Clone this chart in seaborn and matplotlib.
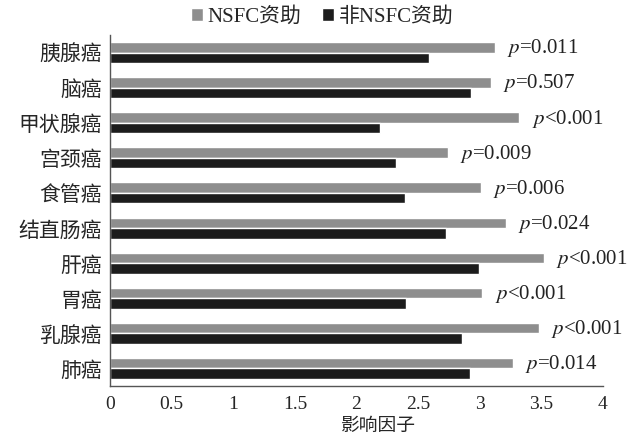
import matplotlib
matplotlib.use("Agg")
import matplotlib.pyplot as plt
import seaborn as sns
import pandas as pd
import numpy as np
from matplotlib.ticker import FixedLocator

categories = ["胰腺癌", "脑癌", "甲状腺癌", "宫颈癌", "食管癌", "结直肠癌", "肝癌", "胃癌", "乳腺癌", "肺癌"]
nsfc = [3.12, 3.09, 3.32, 2.74, 3.01, 3.21, 3.52, 3.02, 3.48, 3.27]
non_nsfc = [2.59, 2.93, 2.19, 2.32, 2.39, 2.73, 2.99, 2.40, 2.86, 2.92]
pvals = ["=0.011", "=0.507", "<0.001", "=0.009", "=0.006", "=0.024", "<0.001", "<0.001", "<0.001", "=0.014"]
series = ["NSFC资助", "非NSFC资助"]
xticks = [0, 0.5, 1, 1.5, 2, 2.5, 3, 3.5, 4]
xticklabels = ["0", "0.5", "1", "1.5", "2", "2.5", "3", "3.5", "4"]

sns.set_style("white")
plt.rcParams['font.family'] = ['Liberation Serif', 'Noto Sans CJK SC']
plt.rcParams['mathtext.fontset'] = 'stix'

df = pd.DataFrame({
    "cat": categories * 2,
    "val": nsfc + non_nsfc,
    "series": [series[0]] * len(categories) + [series[1]] * len(categories),
})

fig = plt.figure(figsize=(6.33, 4.37), dpi=100)
ax = fig.add_axes([110/633, 1-386/437, 493/633, 351/437])
sns.barplot(data=df, y="cat", x="val", hue="series", order=categories, hue_order=series,
            palette=["#8e8e8e", "#1c1c1c"], orient="h", width=0.6, ax=ax, legend=True,
            saturation=1)

ax.set_xlim(0, 4)
ax.set_ylim(len(categories) - 0.5, -0.5)
ax.set_xticks(xticks)
ax.set_xticklabels(xticklabels, fontsize=14)
ax.set_ylabel("")
ax.set_xlabel("影响因子", fontsize=13.5, family=['Noto Sans CJK SC'])
ax.xaxis.set_label_coords(0.544, -0.083)
ax.tick_params(axis='x', direction='out', length=5, width=1, color='#555555', pad=2)
ax.tick_params(axis='y', which='major', length=0, pad=6)
ax.yaxis.set_minor_locator(FixedLocator(np.arange(-0.5, len(categories), 1)))
ax.tick_params(axis='y', which='minor', direction='out', length=4, width=1, color='#555555')
for lab in ax.get_yticklabels():
    lab.set_fontsize(15)
    lab.set_family(['Noto Sans CJK SC'])

for s in ["top", "right"]:
    ax.spines[s].set_visible(False)
for s in ["left", "bottom"]:
    ax.spines[s].set_color("#555555")
    ax.spines[s].set_linewidth(1)

for i, (v, p) in enumerate(zip(nsfc, pvals)):
    ax.text(v + 0.1, i - 0.12, r"$p$" + p, fontsize=15, va="center", ha="left", color="#222222")

leg = ax.legend(loc="lower center", bbox_to_anchor=(0.43, 0.97), ncol=2, frameon=False,
                handlelength=0.6, handleheight=0.6, handletextpad=0.2, columnspacing=1.0,
                prop={'family': ['Liberation Serif', 'Noto Sans CJK SC'], 'size': 15})

fig.savefig("out.png", dpi=100, facecolor="white")
